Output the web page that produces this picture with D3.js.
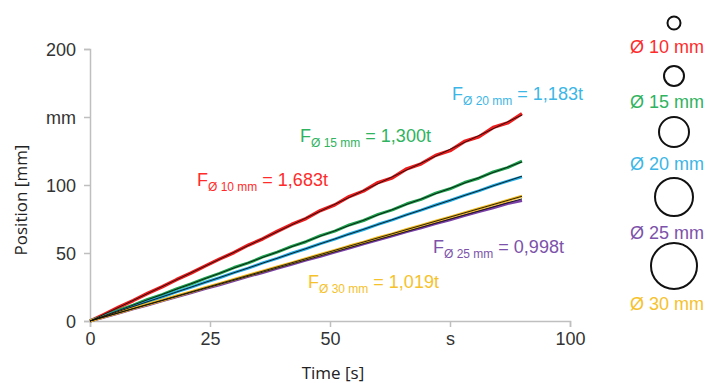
<!DOCTYPE html>
<html><head><meta charset="utf-8">
<script src="https://cdn.jsdelivr.net/npm/d3@7"></script>
<style>
html,body{margin:0;padding:0;background:#fff;}
svg{display:block;}
</style></head>
<body>
<svg id="chart" width="711" height="383"></svg>
<script>
// ---------- DATA ----------
const time = [0,3,6,9,12,15,18,21,24,27,30,33,36,39,42,45,48,51,54,57,60,63,66,69,72,75,78,81,84,87,90];
const pos10 = [0,5.0,10.2,15.0,20.3,25.1,30.4,35.2,40.5,45.6,50.3,55.8,60.4,65.9,71.0,75.3,81.2,85.4,91.5,95.6,101.8,105.3,111.9,115.6,121.8,125.2,132.0,135.4,142.3,145.6,152.5];
const pos15 = [0,3.8,7.9,11.6,15.8,19.4,23.6,27.2,31.4,35.0,39.3,42.7,47.1,50.6,54.9,58.3,62.8,66.1,70.6,73.9,78.4,81.7,86.2,89.4,94.0,97.2,101.8,105.0,109.6,112.8,117.6];
const pos20 = [0,3.5,7.2,10.5,14.3,17.6,21.4,24.7,28.5,31.8,35.6,38.9,42.7,46.0,49.8,53.1,56.9,60.2,64.0,67.3,71.1,74.4,78.2,81.5,85.3,88.6,92.4,95.7,99.5,102.8,106.0];
const pos25 = [0,2.9,5.9,8.9,11.8,14.8,17.8,20.8,23.8,26.7,29.7,32.8,35.7,38.8,41.7,44.8,47.6,50.7,53.6,56.8,59.7,62.6,65.7,68.6,71.6,74.5,77.5,80.4,83.3,86.4,88.5];
const pos30 = [0,3.2,6.2,9.3,12.3,15.3,18.4,21.4,24.5,27.5,30.6,33.6,36.7,39.8,42.7,45.9,48.9,51.9,55.1,58.0,61.2,64.1,67.3,70.3,73.4,76.4,79.5,82.5,85.6,88.6,91.8];
const diameters = ["10","15","20","25","30"];
const slopes = [1.683,1.300,1.183,0.998,1.019];
const slopeLabels = ["1,683t","1,300t","1,183t","0,998t","1,019t"];
const xTicks = [0,25,50,75,100];
const xTickLabels = ["0","25","50","s","100"];
const yTicks = [0,50,100,150,200];
const yTickLabels = ["0","50","100","mm","200"];
const fitRange = [0,90];

// ---------- STYLE ----------
const lineColors = ["#ec1c1c","#1aa34c","#22ace4","#7a3fa6","#f3ba1c"];
const textColors = ["#ff2b2b","#2fb360","#3cb6e6","#7d52aa","#f6c22c"];
const series = [pos10,pos15,pos20,pos25,pos30];
const labelPos = [[197,186],[300,142],[452,100],[433,253],[308,288]];
const legendY = [23,76,132,197,266];
const legendR = [6.5,10,15,19,23];
const legendTextY = [53,108,170,239,310];

const svg = d3.select("#chart");
const x = d3.scaleLinear().domain([0,100]).range([90,570]);
const y = d3.scaleLinear().domain([0,200]).range([321,49]);
const axisColor = "#bfbfbf";

const xAxis = svg.append("g").attr("transform","translate(0,321)")
  .call(d3.axisBottom(x).tickValues(xTicks).tickFormat((d,i)=>xTickLabels[i]).tickSize(6).tickPadding(5));
const yAxis = svg.append("g").attr("transform","translate(90,0)")
  .call(d3.axisLeft(y).tickValues(yTicks).tickFormat((d,i)=>yTickLabels[i]).tickSize(6).tickPadding(8));
[xAxis,yAxis].forEach(g=>{
  g.select(".domain").attr("stroke",axisColor).attr("stroke-width",1.5);
  g.selectAll(".tick line").attr("stroke",axisColor).attr("stroke-width",1.5);
  g.selectAll(".tick text").attr("fill","#333").style("font-family","'Liberation Sans', Arial, sans-serif").style("font-size","18px");
});
yAxis.selectAll(".tick text").attr("dy","0.35em");

svg.append("text").attr("x",333).attr("y",379).attr("text-anchor","middle")
  .style("font-family","'Open Sans', sans-serif").style("font-size","17px").attr("fill","#222").text("Time [s]");
svg.append("text").attr("transform","translate(27,200) rotate(-90)").attr("text-anchor","middle")
  .style("font-family","'Open Sans', sans-serif").style("font-size","17px").attr("fill","#222").text("Position [mm]");

const line = d3.line().x((d,i)=>x(time[i])).y(d=>y(d));
series.forEach((s,k)=>{
  svg.append("path").datum(s).attr("d",line).attr("fill","none")
    .attr("stroke",lineColors[k]).attr("stroke-width",k===0?3.4:3).attr("stroke-linejoin","round");
});
slopes.forEach((m,k)=>{
  svg.append("line").attr("x1",x(fitRange[0])).attr("y1",y(m*fitRange[0]))
    .attr("x2",x(fitRange[1])).attr("y2",y(m*fitRange[1]))
    .attr("stroke","#111").attr("stroke-width",0.9);
});

slopes.forEach((m,k)=>{
  const t = svg.append("text").attr("x",labelPos[k][0]).attr("y",labelPos[k][1])
    .attr("fill",textColors[k]).style("font-family","'Liberation Sans', Arial, sans-serif").style("font-size","18px");
  t.append("tspan").text("F");
  t.append("tspan").attr("dy",5).style("font-size","12px").text("Ø "+diameters[k]+" mm");
  t.append("tspan").attr("dy",-5).text(" = "+slopeLabels[k]);
});

diameters.forEach((d,k)=>{
  svg.append("circle").attr("cx",674).attr("cy",legendY[k]).attr("r",legendR[k])
    .attr("fill","none").attr("stroke","#111").attr("stroke-width",2);
  svg.append("text").attr("x",667).attr("y",legendTextY[k]).attr("text-anchor","middle")
    .attr("fill",textColors[k]).style("font-family","'Liberation Sans', Arial, sans-serif").style("font-size","18px")
    .text("Ø "+d+" mm");
});
</script>
</body></html>
